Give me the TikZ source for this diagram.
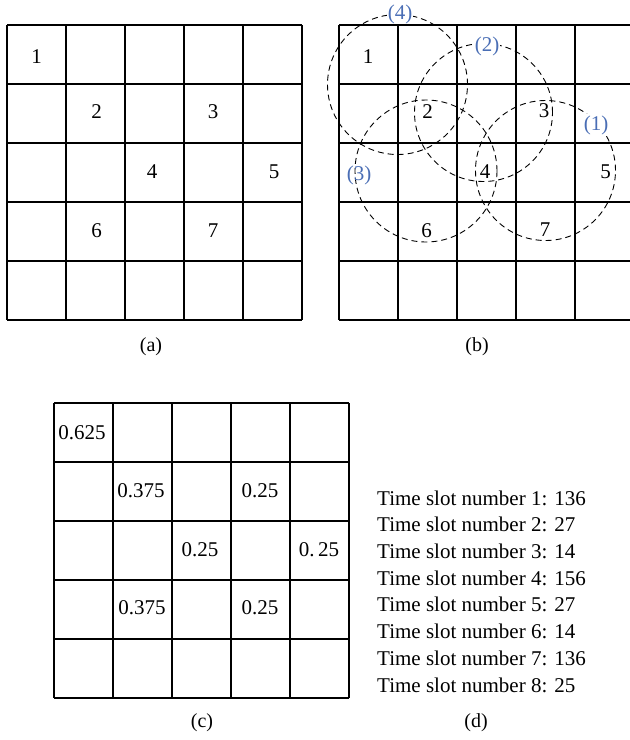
\documentclass[tikz,border=0pt]{standalone}
\usepackage{fontspec}
\setmainfont{Liberation Serif}
\usetikzlibrary{positioning}
\definecolor{zoneblue}{RGB}{74,110,181}

\begin{document}
\begin{tikzpicture}[
        x=1pt, y=-1pt,
        font=\fontsize{21}{25}\selectfont,
        cellline/.style={line width=1.1pt},
        zone/.style={draw, dash pattern=on 6pt off 4pt, line width=0.9pt},
        num/.style={inner sep=0pt},
        zonelbl/.style={inner sep=1pt, text=zoneblue, fill=white},
        subcap/.style={inner sep=0pt, font=\fontsize{20}{24}\selectfont}
    ]
        \useasboundingbox (0,0) rectangle (630,740);

        % (a) grid with node numbers
        \foreach \i in {0,...,5} {
            \draw[cellline] (7+59*\i,25) -- (7+59*\i,320);
            \draw[cellline] (7,25+59*\i) -- (302,25+59*\i);
        }
        \node[num] (a1) at (36.5,56.5) {1};
        \node[num] (a2) at (96.5,112) {2};
        \node[num] (a3) at (213,112) {3};
        \node[num] (a4) at (152,172) {4};
        \node[num] (a5) at (274,172) {5};
        \node[num] (a6) at (96.5,231) {6};
        \node[num] (a7) at (213,231) {7};
        \node[subcap] (capa) at (151,347) {(a)};

        % (b) time slot zones, then the grid over them
        \draw[zone] (397.5,84.5) circle[radius=70pt];
        \draw[zone] (483.5,112.5) circle[radius=69pt];
        \draw[zone] (426,171) circle[radius=71pt];
        \draw[zone] (545.5,170.5) circle[radius=70pt];
        \node[zonelbl] (z4) at (400,14.5) {(4)};
        \node[zonelbl] (z2) at (487,46) {(2)};
        \node[zonelbl] (z1) at (596,125) {(1)};
        \node[zonelbl, fill=none] (z3) at (359,175) {(3)};
        \foreach \i in {0,...,4} {
            \draw[cellline] (339+59*\i,25) -- (339+59*\i,320);
        }
        \foreach \i in {0,...,5} {
            \draw[cellline] (339,25+59*\i) -- (630,25+59*\i);
        }
        \node[num] (b1) at (368,57) {1};
        \node[num] (b2) at (427.5,112) {2};
        \node[num] (b3) at (544,111) {3};
        \node[num] (b4) at (485,172) {4};
        \node[num] (b5) at (605.5,172) {5};
        \node[num] (b6) at (426.5,231) {6};
        \node[num] (b7) at (545,230) {7};
        \node[subcap] (capb) at (477,347) {(b)};

        % (c) grid with values
        \foreach \i in {0,...,5} {
            \draw[cellline] (54+59*\i,403) -- (54+59*\i,698);
            \draw[cellline] (54,403+59*\i) -- (349,403+59*\i);
        }
        \node[num] (c1) at (82,433) {0.625};
        \node[num] (c2) at (141,491) {0.375};
        \node[num] (c3) at (260,491) {0.25};
        \node[num] (c4) at (200,549.5) {0.25};
        \node[num] (c5) at (319,549.5) {0.\,25};
        \node[num] (c6) at (142,608) {0.375};
        \node[num] (c7) at (260,608) {0.25};
        \node[subcap] (capc) at (202,723) {(c)};

        % (d) slot counts
        \foreach \k/\v in {1/136, 2/27, 3/14, 4/156, 5/27, 6/14, 7/136, 8/25} {
            \node[num, anchor=west] (t\k) at (377,498+26.7*\k-26.7) {Time slot number \k: \v};
        }
        \node[subcap] (capd) at (476,723) {(d)};
    \end{tikzpicture}
\end{document}
